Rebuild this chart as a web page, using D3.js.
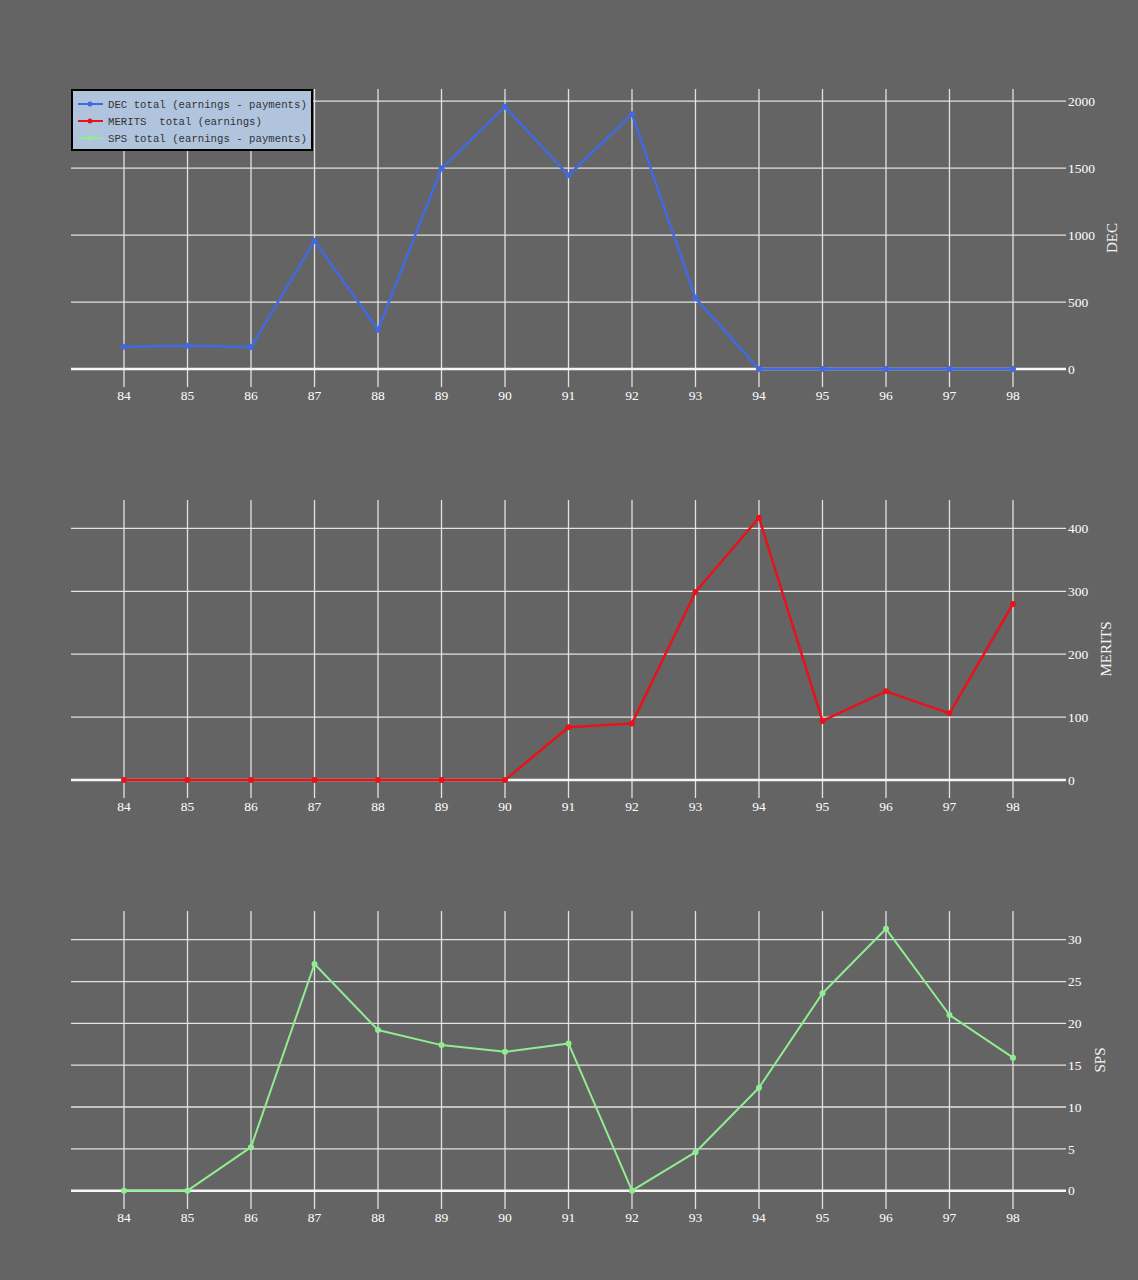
<!DOCTYPE html>
<html>
<head>
<meta charset="utf-8">
<script src="https://cdn.jsdelivr.net/npm/d3@7"></script>
<style>
html,body{margin:0;padding:0;background:#646464;}
svg{display:block;}
</style>
</head>
<body>
<svg id="chart" width="1138" height="1280"></svg>
<script>
const periods = [84,85,86,87,88,89,90,91,92,93,94,95,96,97,98];
const decValues = [166,174,164,956,293,1498,1957,1446,1902,529,0,0,0,0,0];
const meritsValues = [0,0,0,0,0,0,0,84,90,299,417,94,141,106,280];
const spsValues = [0,0,5.2,27.1,19.2,17.4,16.6,17.6,0,4.6,12.3,23.6,31.3,21.0,15.9];
const decTicks = [0,500,1000,1500,2000];
const meritsTicks = [0,100,200,300,400];
const spsTicks = [0,5,10,15,20,25,30];
const seriesNames = ["DEC total (earnings - payments)","MERITS  total (earnings)","SPS total (earnings - payments)"];
const seriesColors = ["#4169e1","#e8121a","#90ee90"];
const axisTitles = ["DEC","MERITS","SPS"];

const panels = [
  {values: decValues, ticks: decTicks, domain: [-134, 2090], top: 89, color: seriesColors[0], title: axisTitles[0], width: 2.5, titleX: 1112},
  {values: meritsValues, ticks: meritsTicks, domain: [-28.6, 445.2], top: 500, color: seriesColors[1], title: axisTitles[1], width: 2.5, titleX: 1106},
  {values: spsValues, ticks: spsTicks, domain: [-2.19, 33.43], top: 911, color: seriesColors[2], title: axisTitles[2], width: 2, titleX: 1100}
];

const svg = d3.select("#chart");
const left = 71, right = 1066, plotH = 298;
const x = d3.scaleLinear().domain([84 - 0.835, 98 + 0.835]).range([left, right]);
const gridColor = "#e2e2e2";
const serif = "'Liberation Serif','Times New Roman',serif";

panels.forEach(p => {
  const y = d3.scaleLinear().domain(p.domain).range([p.top + plotH, p.top]);
  const g = svg.append("g");
  g.selectAll("line.vg").data(periods).join("line")
    .attr("x1", d => x(d)).attr("x2", d => x(d))
    .attr("y1", p.top).attr("y2", p.top + plotH)
    .attr("stroke", gridColor).attr("stroke-width", 1.3);
  g.selectAll("line.hg").data(p.ticks.filter(t => t !== 0)).join("line")
    .attr("x1", left).attr("x2", right)
    .attr("y1", d => y(d)).attr("y2", d => y(d))
    .attr("stroke", gridColor).attr("stroke-width", 1.3);
  g.append("line")
    .attr("x1", left).attr("x2", right)
    .attr("y1", y(0)).attr("y2", y(0))
    .attr("stroke", "#f5f5f5").attr("stroke-width", 2.5);
  g.selectAll("text.xt").data(periods).join("text")
    .attr("x", d => x(d)).attr("y", y(0) + 31)
    .attr("text-anchor", "middle")
    .attr("font-family", serif).attr("font-size", 13.5)
    .attr("fill", "#ffffff")
    .text(d => d);
  g.selectAll("text.yt").data(p.ticks).join("text")
    .attr("x", right + 2).attr("y", d => y(d))
    .attr("dy", "0.35em")
    .attr("font-family", serif).attr("font-size", 13.5)
    .attr("fill", "#ffffff")
    .text(d => d);
  g.append("text")
    .attr("transform", `translate(${p.titleX},${p.top + plotH / 2}) rotate(-90)`)
    .attr("text-anchor", "middle").attr("dy", "0.35em")
    .attr("font-family", serif).attr("font-size", 15)
    .attr("fill", "#f4f4f4")
    .text(p.title);
  const line = d3.line().x((d, i) => x(periods[i])).y(d => y(d));
  g.append("path").datum(p.values)
    .attr("d", line).attr("fill", "none")
    .attr("stroke", p.color).attr("stroke-width", p.width)
    .attr("stroke-linejoin", "round");
  g.selectAll("circle").data(p.values).join("circle")
    .attr("cx", (d, i) => x(periods[i])).attr("cy", d => y(d))
    .attr("r", 3).attr("fill", p.color);
});

const lg = svg.append("g");
lg.append("rect").attr("x", 72).attr("y", 90).attr("width", 240).attr("height", 60)
  .attr("fill", "#b0c4de").attr("stroke", "#000").attr("stroke-width", 2);
seriesNames.forEach((name, i) => {
  const yy = 104 + i * 17;
  lg.append("line").attr("x1", 78).attr("x2", 103).attr("y1", yy).attr("y2", yy)
    .attr("stroke", seriesColors[i]).attr("stroke-width", 2);
  lg.append("circle").attr("cx", 90).attr("cy", yy).attr("r", 2.5).attr("fill", seriesColors[i]);
  lg.append("text").attr("x", 108).attr("y", yy).attr("dy", "0.35em")
    .attr("font-family", "'Liberation Mono','Courier New',monospace").attr("font-size", 10.7)
    .attr("fill", "#333").style("white-space", "pre")
    .text(name);
});
</script>
</body>
</html>
